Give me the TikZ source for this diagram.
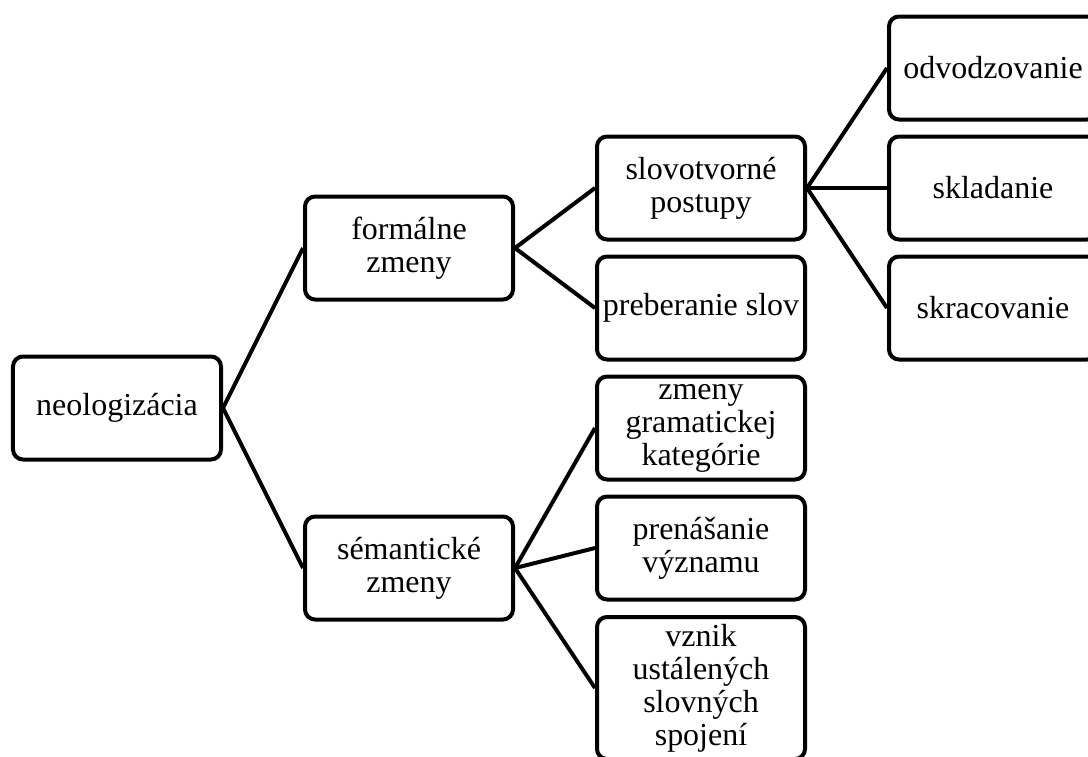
\documentclass[tikz,border=0pt]{standalone}
\usepackage{fontspec}
\setmainfont{Liberation Serif}
\usepackage{tikz}
\tikzset{%
  box/.style = {shape=rectangle, rounded corners=0.2cm,%
                draw, align=center, inner sep=1pt,%
                minimum width=4.16cm, minimum height=2.06cm},%
  tallbox/.style = {box, minimum height=2.84cm}%
}

\begin{document}
\begin{tikzpicture}[grow'=right,level distance=5.84cm,line width=0.08cm,
parent anchor=east,child anchor=west,
every node/.style = {font=\fontsize{18.2}{18.8}\selectfont}]
	\tikzstyle{level 1}=[sibling distance = 6.4cm]
	\tikzstyle{level 2}=[sibling distance = 2.4cm]
	\tikzstyle{level 3}=[sibling distance = 2.4cm]
	\useasboundingbox (0,0) rectangle (21.76,-15.12);
	\node [box] (neo) at (2.34,-8.16) {neologizácia}
		child{node [box] (formal) {formálne\\zmeny}
			child{node [box] (slovo) {slovotvorné\\postupy}
				child{node [box] (odvod) {odvodzovanie}}
				child{node [box] (sklad) {skladanie}}
				child{node [box] (skrac) {skracovanie}}
			}
			child{node [box] (prebe) {preberanie slov}}
		}
		child{node [box] (seman) {sémantické\\zmeny}
			child[yshift=0.4cm]{node [box] (grama) {zmeny\\gramatickej\\kategórie}}
			child[yshift=0.4cm]{node [box] (prena) {prenášanie\\významu}}
			child{node [tallbox] (vznik) {vznik\\ustálených\\slovných\\spojení}}
		};
\end{tikzpicture}
\end{document}
